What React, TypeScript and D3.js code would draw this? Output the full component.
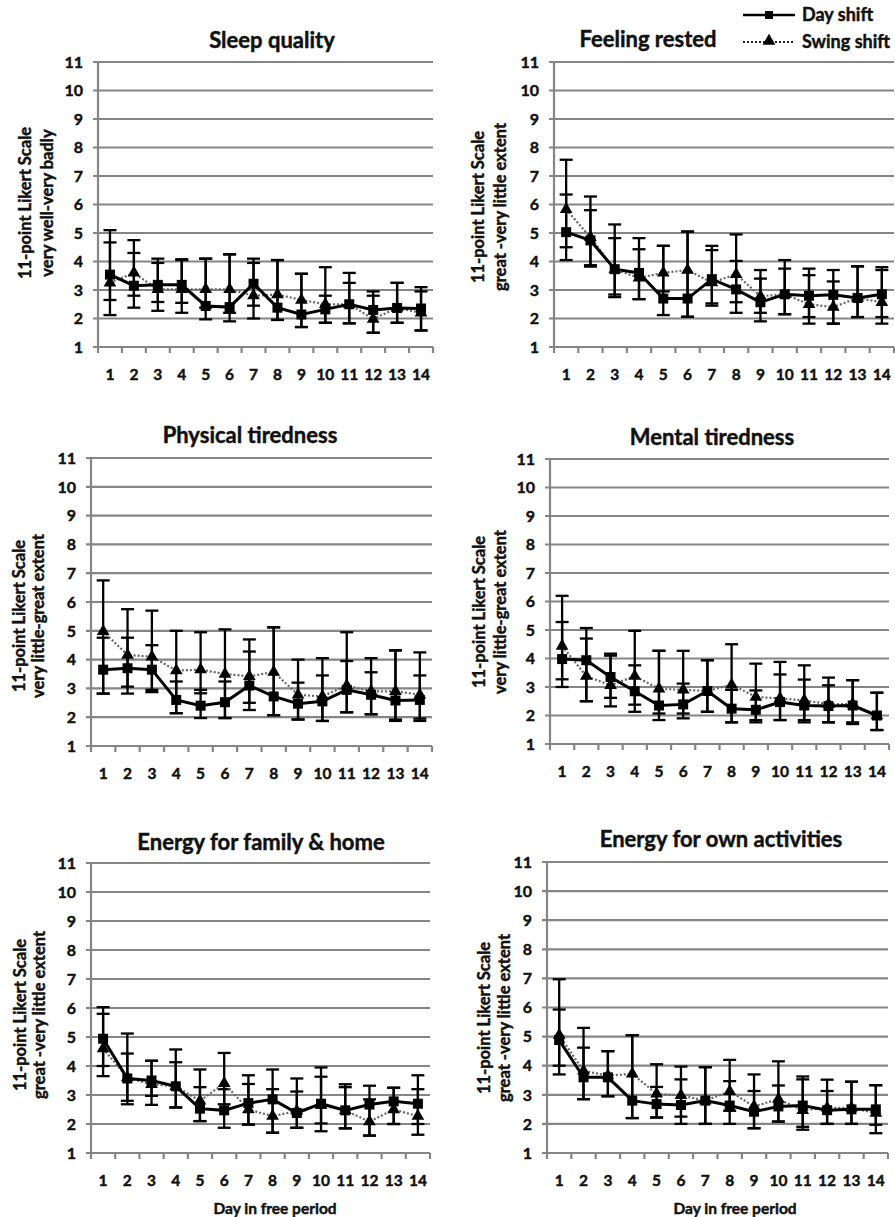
import React from 'react';
import * as d3 from 'd3';

const W = 895;
const H = 1217;
const FONT = 'Lato, "Open Sans", sans-serif';
const GRID = '#858585';

const DAYS = [1, 2, 3, 4, 5, 6, 7, 8, 9, 10, 11, 12, 13, 14];
const Y_TICKS = [1, 2, 3, 4, 5, 6, 7, 8, 9, 10, 11];

// Sleep quality
const sleepDay = [3.54, 3.15, 3.18, 3.18, 2.44, 2.4, 3.22, 2.38, 2.14, 2.32, 2.5, 2.3, 2.37, 2.35];
const sleepDayHi = [5.1, 4.3, 4.1, 4.08, 4.1, 4.25, 4.1, 4.05, 3.57, 3.8, 3.6, 2.95, 3.25, 3.1];
const sleepDayLo = [2.12, 2.38, 2.27, 2.2, 1.97, 1.9, 2.0, 1.95, 1.7, 1.85, 1.83, 1.5, 1.85, 1.58];
const sleepSwing = [3.25, 3.6, 3.02, 3.02, 3.02, 3.02, 2.8, 2.84, 2.65, 2.5, 2.5, 1.98, 2.37, 2.2];
const sleepSwingHi = [4.67, 4.75, 3.95, 4.05, 4.1, 4.25, 3.95, 4.05, 3.57, 2.8, 3.25, 2.8, 3.25, 2.95];
const sleepSwingLo = [2.65, 2.8, 2.58, 2.55, 2.38, 2.2, 2.45, 1.95, 1.7, 1.85, 1.83, 1.5, 1.85, 1.58];

// Feeling rested
const restDay = [5.03, 4.74, 3.73, 3.6, 2.7, 2.7, 3.38, 3.02, 2.57, 2.85, 2.8, 2.83, 2.72, 2.85];
const restDayHi = [6.35, 6.28, 5.3, 4.82, 4.55, 5.05, 4.55, 4.02, 3.4, 4.05, 3.75, 3.7, 3.83, 3.8];
const restDayLo = [4.5, 3.82, 2.75, 2.68, 2.12, 2.06, 2.45, 2.2, 1.9, 2.15, 2.05, 1.82, 2.05, 2.05];
const restSwing = [5.83, 4.85, 3.72, 3.43, 3.6, 3.7, 3.26, 3.55, 2.78, 2.85, 2.5, 2.4, 2.72, 2.57];
const restSwingHi = [7.57, 5.8, 4.82, 4.43, 4.55, 5.05, 4.4, 4.95, 3.7, 3.75, 3.52, 3.3, 3.83, 3.7];
const restSwingLo = [4.05, 3.87, 2.84, 2.68, 2.95, 2.06, 2.53, 2.57, 2.2, 2.15, 1.82, 1.82, 2.05, 1.82];

// Physical tiredness
const physDay = [3.65, 3.7, 3.65, 2.6, 2.4, 2.52, 3.1, 2.72, 2.47, 2.55, 2.95, 2.78, 2.58, 2.6];
const physDayHi = [4.76, 4.76, 4.5, 3.24, 2.95, 3.24, 4.28, 5.12, 4.0, 3.45, 3.95, 3.56, 4.32, 3.45];
const physDayLo = [2.82, 3.06, 2.95, 2.14, 1.97, 1.97, 2.25, 2.07, 1.92, 1.87, 2.17, 2.1, 1.87, 1.87];
const physSwing = [4.98, 4.16, 4.1, 3.62, 3.65, 3.5, 3.42, 3.57, 2.78, 2.72, 3.1, 2.9, 2.9, 2.78];
const physSwingHi = [6.75, 5.75, 5.7, 5.0, 4.95, 5.05, 4.7, 5.12, 3.2, 4.05, 4.95, 4.05, 4.32, 4.25];
const physSwingLo = [2.82, 2.82, 2.87, 2.14, 2.83, 1.97, 2.5, 2.07, 1.92, 1.87, 2.17, 2.1, 1.92, 1.95];

// Mental tiredness
const mentDay = [3.98, 3.94, 3.35, 2.85, 2.35, 2.39, 2.86, 2.24, 2.2, 2.47, 2.35, 2.33, 2.35, 2.0];
const mentDayHi = [5.28, 5.07, 4.17, 3.76, 4.27, 3.12, 3.94, 2.9, 2.88, 3.88, 3.76, 3.33, 3.24, 2.8];
const mentDayLo = [3.27, 2.5, 2.62, 2.13, 1.84, 1.9, 2.13, 1.76, 1.76, 1.84, 1.76, 1.76, 1.7, 1.49];
const mentSwing = [4.44, 3.38, 3.06, 3.38, 2.94, 2.9, 2.86, 3.08, 2.65, 2.6, 2.53, 2.4, 2.4, 2.0];
const mentSwingHi = [6.2, 4.7, 4.1, 4.97, 4.27, 4.27, 3.94, 4.5, 3.82, 3.44, 3.26, 3.06, 3.24, 2.8];
const mentSwingLo = [3.0, 2.5, 2.32, 2.38, 2.07, 2.07, 2.13, 1.76, 1.84, 1.84, 1.84, 1.76, 1.76, 1.49];

// Energy for family & home
const famDay = [4.94, 3.57, 3.5, 3.3, 2.53, 2.47, 2.72, 2.85, 2.38, 2.7, 2.47, 2.67, 2.78, 2.7];
const famDayHi = [6.03, 5.12, 4.18, 4.57, 3.27, 3.2, 3.68, 3.88, 3.57, 3.95, 3.37, 3.32, 3.25, 3.68];
const famDayLo = [3.65, 2.68, 2.66, 2.57, 2.1, 1.87, 1.98, 1.7, 1.87, 1.75, 1.85, 1.6, 2.0, 2.0];
const famSwing = [4.6, 3.6, 3.37, 3.3, 2.8, 3.4, 2.5, 2.27, 2.45, 2.65, 2.47, 2.08, 2.5, 2.27];
const famSwingHi = [5.8, 4.43, 4.18, 4.13, 3.88, 4.45, 3.38, 3.2, 3.12, 3.63, 3.27, 2.85, 3.25, 3.2];
const famSwingLo = [4.0, 2.8, 2.97, 2.57, 2.1, 2.68, 1.98, 1.7, 1.87, 2.02, 1.85, 1.6, 2.0, 1.63];

// Energy for own activities
const ownDay = [4.88, 3.6, 3.6, 2.8, 2.68, 2.65, 2.8, 2.63, 2.42, 2.6, 2.63, 2.47, 2.5, 2.5];
const ownDayHi = [6.97, 5.3, 4.5, 5.05, 3.27, 3.53, 3.95, 3.47, 3.13, 3.32, 3.63, 3.52, 3.45, 3.33];
const ownDayLo = [3.7, 2.85, 2.95, 2.2, 2.22, 2.0, 2.0, 2.0, 1.85, 2.08, 1.8, 2.0, 2.0, 1.68];
const ownSwing = [5.05, 3.82, 3.66, 3.72, 3.03, 2.98, 2.8, 3.12, 2.6, 2.85, 2.47, 2.55, 2.55, 2.37];
const ownSwingHi = [5.93, 4.62, 4.5, 5.05, 4.05, 3.97, 3.95, 4.2, 3.7, 4.15, 3.53, 3.13, 3.45, 3.33];
const ownSwingLo = [4.0, 2.85, 2.95, 2.2, 2.22, 2.25, 2.0, 2.45, 1.85, 2.08, 1.9, 2.0, 2.0, 1.97];

type Series = { mean: number[]; hi: number[]; lo: number[] };
type PanelDef = {
  title: string;
  sub: string;
  day: Series;
  swing: Series;
  left: number; right: number; top: number; bottom: number;
  titleX: number; titleY: number;
  yt1: number; yt2: number; ytY: number;
  xTitle?: number;
};

const PANELS: PanelDef[] = [
  {
    title: 'Sleep quality', sub: 'very well-very badly',
    day: { mean: sleepDay, hi: sleepDayHi, lo: sleepDayLo },
    swing: { mean: sleepSwing, hi: sleepSwingHi, lo: sleepSwingLo },
    left: 98, right: 433, top: 62, bottom: 347, titleX: 272, titleY: 48, yt1: 31, yt2: 53, ytY: 203,
  },
  {
    title: 'Feeling rested', sub: 'great -very little extent',
    day: { mean: restDay, hi: restDayHi, lo: restDayLo },
    swing: { mean: restSwing, hi: restSwingHi, lo: restSwingLo },
    left: 554, right: 894, top: 62, bottom: 347, titleX: 648, titleY: 47, yt1: 484, yt2: 506, ytY: 207,
  },
  {
    title: 'Physical tiredness', sub: 'very little-great extent',
    day: { mean: physDay, hi: physDayHi, lo: physDayLo },
    swing: { mean: physSwing, hi: physSwingHi, lo: physSwingLo },
    left: 91, right: 432, top: 458, bottom: 746, titleX: 250, titleY: 443, yt1: 25, yt2: 44, ytY: 616,
  },
  {
    title: 'Mental tiredness', sub: 'very little-great extent',
    day: { mean: mentDay, hi: mentDayHi, lo: mentDayLo },
    swing: { mean: mentSwing, hi: mentSwingHi, lo: mentSwingLo },
    left: 550, right: 889, top: 459, bottom: 744, titleX: 712, titleY: 445, yt1: 485, yt2: 506, ytY: 612,
  },
  {
    title: 'Energy for family & home', sub: 'great -very little extent',
    day: { mean: famDay, hi: famDayHi, lo: famDayLo },
    swing: { mean: famSwing, hi: famSwingHi, lo: famSwingLo },
    left: 91, right: 430, top: 863, bottom: 1153, titleX: 261, titleY: 850, yt1: 26, yt2: 45, ytY: 1015,
    xTitle: 275,
  },
  {
    title: 'Energy for own activities', sub: 'great -very little extent',
    day: { mean: ownDay, hi: ownDayHi, lo: ownDayLo },
    swing: { mean: ownSwing, hi: ownSwingHi, lo: ownSwingLo },
    left: 547, right: 888, top: 862, bottom: 1153, titleX: 721, titleY: 847, yt1: 490, yt2: 510, ytY: 1018,
    xTitle: 735,
  },
];

const triPath = d3.symbol(d3.symbolTriangle, 70)() as string;

// the scan is heavy and soft, a thin outline thickens Lato bold to match
const ink = { fill: '#111', stroke: '#111', strokeWidth: 0.45 };

function ErrorBars({ s, cx, y }: { s: Series; cx: (d: number) => number; y: d3.ScaleLinear<number, number> }) {
  return (
    <g stroke="#000" strokeWidth={2.3}>
      {DAYS.map((d, i) => (
        <g key={d}>
          <line x1={cx(d)} x2={cx(d)} y1={y(s.lo[i])} y2={y(s.hi[i])} />
          <line x1={cx(d) - 6.5} x2={cx(d) + 6.5} y1={y(s.hi[i])} y2={y(s.hi[i])} />
          <line x1={cx(d) - 6.5} x2={cx(d) + 6.5} y1={y(s.lo[i])} y2={y(s.lo[i])} />
        </g>
      ))}
    </g>
  );
}

function Panel({ p }: { p: PanelDef }) {
  const x = d3.scaleBand<number>().domain(DAYS).range([p.left, p.right]);
  const y = d3.scaleLinear().domain([1, 11]).range([p.bottom, p.top]);
  const cx = (d: number) => (x(d) as number) + x.bandwidth() / 2;
  const line = d3.line<number>().x((_, i) => cx(DAYS[i])).y(v => y(v));
  const bounds = DAYS.map(d => x(d) as number).concat([p.right]);

  return (
    <g fontFamily={FONT} fontWeight="bold">
      <text x={p.titleX} y={p.titleY} textAnchor="middle" fontSize={22} {...ink}>{p.title}</text>

      {/* grid + y ticks */}
      {Y_TICKS.map(t => (
        <g key={t}>
          <line x1={p.left - 5} x2={p.right} y1={y(t)} y2={y(t)} stroke={GRID} strokeWidth={2.2} />
          <text x={p.left - 15} y={y(t)} dy="0.36em" textAnchor="end" fontSize={16} {...ink}>{t}</text>
        </g>
      ))}
      <line x1={p.left} x2={p.left} y1={p.top} y2={p.bottom} stroke={GRID} strokeWidth={2.2} />
      {bounds.map((b, i) => (
        <line key={i} x1={b} x2={b} y1={p.bottom} y2={p.bottom + 6} stroke={GRID} strokeWidth={2.2} />
      ))}
      {DAYS.map(d => (
        <text key={d} x={cx(d)} y={p.bottom + 27} dy="0.36em" textAnchor="middle" fontSize={15.5} {...ink}>{d}</text>
      ))}

      {/* y axis title, two lines */}
      <text transform={`translate(${p.yt1},${p.ytY}) rotate(-90)`} textAnchor="middle" fontSize={16.5} {...ink}>11-point Likert Scale</text>
      <text transform={`translate(${p.yt2},${p.ytY}) rotate(-90)`} textAnchor="middle" fontSize={16.5} {...ink}>{p.sub}</text>

      {p.xTitle !== undefined && (
        <text x={p.xTitle} y={p.bottom + 55} dy="0.36em" textAnchor="middle" fontSize={15.5} {...ink}>Day in free period</text>
      )}

      <ErrorBars s={p.swing} cx={cx} y={y} />
      <ErrorBars s={p.day} cx={cx} y={y} />

      <path d={line(p.swing.mean) as string} fill="none" stroke="#666" strokeWidth={2.2} strokeDasharray="2,2" />
      <path d={line(p.day.mean) as string} fill="none" stroke="#000" strokeWidth={3} />

      {p.swing.mean.map((v, i) => (
        <path key={i} d={triPath} transform={`translate(${cx(DAYS[i])},${y(v)})`} fill="#000" />
      ))}
      {p.day.mean.map((v, i) => (
        <rect key={i} x={cx(DAYS[i]) - 5} y={y(v) - 5} width={10} height={10} fill="#000" />
      ))}
    </g>
  );
}

function Legend() {
  return (
    <g fontFamily={FONT} fontWeight="bold" fontSize={18}>
      <line x1={743} x2={795} y1={15} y2={15} stroke="#000" strokeWidth={2.5} />
      <rect x={765} y={11} width={8} height={8} fill="#000" />
      <text x={802} y={15} dy="0.36em" {...ink}>Day shift</text>
      <line x1={743} x2={795} y1={42} y2={42} stroke="#222" strokeWidth={2} strokeDasharray="2,2" />
      <path d={triPath} transform="translate(769,41)" fill="#000" />
      <text x={802} y={42} dy="0.36em" {...ink}>Swing shift</text>
    </g>
  );
}

export default function App() {
  return (
    <svg width={W} height={H} style={{ position: 'absolute', left: 0, top: 0, background: '#fff' }}>
      <rect width={W} height={H} fill="#fff" />
      {PANELS.map(p => <Panel key={p.title} p={p} />)}
      <Legend />
    </svg>
  );
}
